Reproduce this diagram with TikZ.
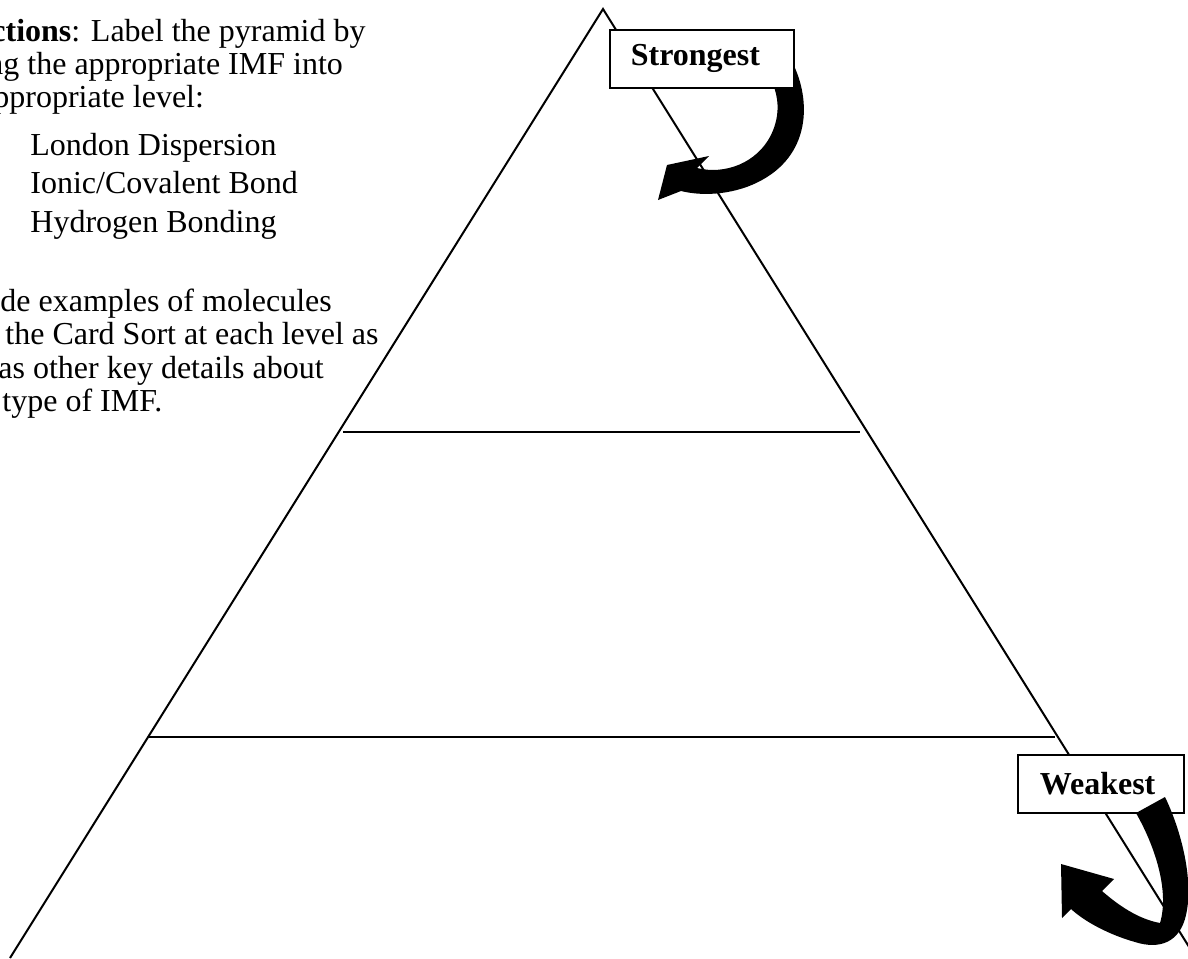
\documentclass[tikz,border=0pt]{standalone}
\usepackage{fontspec}
\setmainfont{Liberation Serif}
\usetikzlibrary{positioning}

\begin{document}
\begin{tikzpicture} [
    x=0.5pt, y=-0.5pt,
    edge/.style={draw=black, line width=1pt},
    level/.style={draw=black, line width=0.9pt},
    notes/.style={anchor=base west, inner sep=0pt, font=\fontsize{16}{18.4}\selectfont},
    tagbox/.style={rectangle, draw=black, fill=white, line width=0.8pt, anchor=north west, minimum height=29pt, align=left, font=\fontsize{16}{18.4}\selectfont\bfseries},
    curlarrow/.style={fill=black}
    ]
    \useasboundingbox (0,0) rectangle (1188,958);
    \clip (0,0) rectangle (1188,958);
    %Corners
    \coordinate (apex) at (603,9);
    \coordinate (bl)   at (10,958);
    \coordinate (br)   at (1196,958);
    \coordinate (l1)   at (343,432);
    \coordinate (r1)   at (860,432);
    \coordinate (l2)   at (148,737);
    \coordinate (r2)   at (1055,737);
    %Lines
    \draw[edge] (bl) -- (apex) -- (br);
    \draw[level] (l1) -- (r1);
    \draw[level] (l2) -- (r2);
    %Text
    \node[notes] (dir1) at (-9,41)  {\textbf{ctions}: Label the pyramid by};
    \node[notes] (dir2) at (-13,74) {ng the appropriate IMF into};
    \node[notes] (dir3) at (-7,107) {ppropriate level:};
    \node[notes] (imf1) at (30,155) {London Dispersion};
    \node[notes] (imf2) at (30,193) {Ionic/Covalent Bond};
    \node[notes] (imf3) at (30,232) {Hydrogen Bonding};
    \node[notes] (ex1)  at (0,311)  {de examples of molecules};
    \node[notes] (ex2)  at (5,344)  {the Card Sort at each level as};
    \node[notes] (ex3)  at (-2,378) {as other key details about};
    \node[notes] (ex4)  at (2,411)  {type of IMF.};
    %Top arrow, under its box
    \fill[curlarrow] (790,58) .. controls (811,95) and (813,152) .. (762,180)
        .. controls (737,194) and (705,197) .. (681,191) -- (658,200) -- (667,165)
        -- (709,156) -- (697,168) .. controls (725,175) and (757,163) .. (771,135)
        .. controls (781,114) and (779,95) .. (769,75) -- cycle;
    \node[tagbox, text width=71pt, inner xsep=10.5pt] (strong) at (609,29) {Strongest};
    %Bottom box, arrow over it
    \node[tagbox, text width=61pt, inner xsep=11pt] (weak) at (1017,754) {Weakest};
    \fill[curlarrow] (1165,797) .. controls (1181,830) and (1194,880) .. (1186,915)
        .. controls (1180,942) and (1160,950) .. (1135,942)
        .. controls (1110,935) and (1085,922) .. (1071,909) -- (1062,918) -- (1061,864)
        -- (1114,879) -- (1102,891) .. controls (1118,905) and (1138,919) .. (1160,923)
        .. controls (1169,893) and (1157,850) .. (1136,813) -- cycle;
\end{tikzpicture}
\end{document}
